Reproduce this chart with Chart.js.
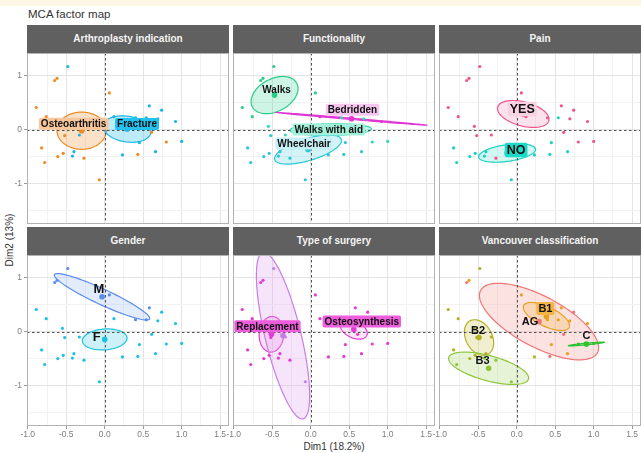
<!DOCTYPE html>
<html>
<head>
<meta charset="utf-8">
<script src="https://cdn.jsdelivr.net/npm/chart.js@4.4.1/dist/chart.umd.min.js"></script>
<style>
html,body{margin:0;padding:0;background:#fff;}
body{width:641px;height:453px;position:relative;overflow:hidden;font-family:"Liberation Sans",Arial,sans-serif;}
#band{position:absolute;left:0;top:0;width:641px;height:6px;background:#fdf8e6;}
#title{position:absolute;left:28px;top:7px;font-size:11.5px;line-height:14px;color:#333;}
.strip{position:absolute;height:28px;background:#606060;color:#f4f4f4;font-weight:bold;font-size:10px;line-height:28px;text-align:center;white-space:nowrap;}
#ytitle{position:absolute;left:9px;top:240px;transform:translate(-50%,-50%) rotate(-90deg);font-size:10px;color:#333;white-space:nowrap;}
#xtitle{position:absolute;left:334px;top:446px;transform:translate(-50%,-50%);font-size:10px;color:#333;white-space:nowrap;}
canvas{position:absolute;}
</style>
</head>
<body>
<div id="band"></div>
<div id="title">MCA factor map</div>
<div id="ytitle">Dim2 (13%)</div>
<div id="xtitle">Dim1 (18.2%)</div>
<script>
// ---- Individuals on the first two MCA dimensions ----
const indDim1 = [-0.48,-0.65,-0.62,0.06,-0.89,-0.76,-0.55,-0.52,-0.33,-0.82,-0.78,-0.61,-0.54,-0.40,-0.42,-0.27,-0.07,0.12,0.40,0.54,0.58,0.74,0.69,0.92,0.61,0.45,0.80,1.00,0.23,0.43,0.66];
const indDim2 = [1.17,0.91,0.95,0.68,0.41,0.24,0.06,-0.11,-0.10,-0.34,-0.61,-0.50,-0.44,-0.41,-0.49,-0.53,-0.93,0.24,0.22,0.22,0.44,0.36,0.20,0.15,-0.05,-0.24,-0.23,-0.22,-0.47,-0.46,-0.41];

// ---- Axis breaks ----
const xMajorTicks = [-1,-0.5,0,0.5,1,1.5];
const xTickLabels = ['-1.0','-0.5','0.0','0.5','1.0','1.5'];
const xMinorTicks = [-0.75,-0.25,0.25,0.75,1.25];
const yMajorTicks = [-1,0,1];
const yTickLabels = ['-1','0','1'];
const yMinorTicks = [-1.5,-0.5,0.5];

// ---- Arthroplasty indication ----
const arthroCategories = ['Osteoarthritis','Fracture'];
const arthroGroup = [1,0,0,0,0,0,0,0,1,0,0,0,0,1,1,0,0,1,1,1,1,1,1,1,0,1,0,1,1,0,1];
const arthroCentre1 = [-0.30,0.29];
const arthroCentre2 = [-0.02,0.01];
const arthroSpread1 = [0.32,0.31];
const arthroSpread2 = [0.345,0.245];
const arthroRho = [0.0,-0.2];

// ---- Functionality ----
const funcCategories = ['Walks','Bedridden','Walks with aid','Wheelchair'];
const funcGroup = [0,0,0,0,0,0,2,3,2,3,3,3,3,3,3,3,3,1,2,1,2,2,2,1,2,3,2,2,3,3,3];
const funcCentre1 = [-0.47,0.53,0.26,-0.035];
const funcCentre2 = [0.64,0.20,0.0,-0.37];
const funcSpread1 = [0.305,0.975,0.53,0.435];
const funcSpread2 = [0.345,0.118,0.11,0.27];
const funcRho = [0.35,-0.995,0.1,0.62];

// ---- Pain ----
const painCategories = ['YES','NO'];
const painGroup = [0,0,0,0,0,0,0,0,0,1,1,1,1,1,1,0,1,0,0,1,0,0,0,0,0,1,0,0,1,1,1];
const painCentre1 = [0.085,-0.125];
const painCentre2 = [0.29,-0.435];
const painSpread1 = [0.335,0.37];
const painSpread2 = [0.25,0.17];
const painRho = [-0.4,0.4];

// ---- Gender ----
const genderCategories = ['M','F'];
const genderGroup = [0,0,0,0,1,1,1,1,1,1,1,1,1,1,1,1,1,1,0,0,0,1,1,1,1,1,1,1,1,1,1];
const genderCentre1 = [-0.035,0.0];
const genderCentre2 = [0.645,-0.145];
const genderSpread1 = [0.62,0.29];
const genderSpread2 = [0.43,0.195];
const genderRho = [-0.93,0.12];

// ---- Type of surgery ----
const surgeryCategories = ['Replacement','Osteosynthesis','Other'];
const surgeryGroup = [2,0,0,1,0,0,0,0,2,0,0,0,0,0,0,0,2,1,1,1,1,1,1,1,1,1,1,1,1,1,1];
const surgeryCentre1 = [-0.51,0.56,-0.36];
const surgeryCentre2 = [-0.05,0.04,-0.075];
const surgerySpread1 = [0.16,0.175,0.346];
const surgerySpread2 = [0.33,0.18,1.545];
const surgeryRho = [0.05,-0.4,-0.72];

// ---- Vancouver classification ----
const vancCategories = ['AG','B1','B2','B3','C'];
const vancGroup = [2,0,1,1,2,2,2,2,2,2,3,2,2,2,3,3,3,0,1,1,1,0,1,1,0,1,4,4,2,0,1];
const vancCentre1 = [0.29,0.386,-0.49,-0.365,0.905];
const vancCentre2 = [0.186,0.28,-0.11,-0.68,-0.23];
const vancSpread1 = [0.775,0.30,0.19,0.52,0.235];
const vancSpread2 = [0.71,0.26,0.33,0.30,0.035];
const vancRho = [-0.68,-0.65,-0.3,-0.6,0.9];

// ---- Facet layout ----
const PLOT_W = 202, PLOT_H = 171, AXIS_W = 27, AXIS_H = 20;
const colLeft = [27, 233, 439];
const rowTop = [53, 255];
const X_MIN = -1.01, X_MAX = 1.615, Y_MIN = -1.75, Y_MAX = 1.42;

const panels = [
  {title:'Arthroplasty indication', cats:arthroCategories, group:arthroGroup, c1:arthroCentre1, c2:arthroCentre2, s1:arthroSpread1, s2:arthroSpread2, rho:arthroRho,
   style:{color:['#ef8a22','#1bb4e6'], fill:['rgba(247,170,100,0.35)','rgba(40,190,235,0.3)'],
          labelBg:['#f7c79b','#25c1ee'], labelSize:10, labelDx:[-8,10], labelDy:[-7,-5], showLabel:[true,true]}},
  {title:'Functionality', cats:funcCategories, group:funcGroup, c1:funcCentre1, c2:funcCentre2, s1:funcSpread1, s2:funcSpread2, rho:funcRho,
   style:{color:['#27cc88','#e236d4','#2ddcb4','#2bc6d8'], fill:['rgba(60,210,150,0.25)','rgba(230,60,215,0.25)','rgba(60,225,185,0.3)','rgba(60,200,220,0.22)'],
          labelBg:[null,'#f7c6ef','#a2f0da','#c6f0f6'], labelSize:10, labelDx:[2,1,-2,-4], labelDy:[-5,-9,0,-6], showLabel:[true,true,true,true]}},
  {title:'Pain', cats:painCategories, group:painGroup, c1:painCentre1, c2:painCentre2, s1:painSpread1, s2:painSpread2, rho:painRho,
   style:{color:['#f0548c','#19d2c1'], fill:['rgba(245,150,185,0.28)','rgba(60,220,205,0.22)'],
          labelBg:['#f8d2e0','#1bdac7'], labelSize:12.5, labelDx:[-1,9], labelDy:[-5,-3], showLabel:[true,true]}},
  {title:'Gender', cats:genderCategories, group:genderGroup, c1:genderCentre1, c2:genderCentre2, s1:genderSpread1, s2:genderSpread2, rho:genderRho,
   style:{color:['#5b8cef','#1cc2e2'], fill:['rgba(150,185,245,0.28)','rgba(90,210,235,0.3)'],
          labelBg:[null,null], labelSize:13, labelDx:[-3,-8], labelDy:[-8,-2], showLabel:[true,true]}},
  {title:'Type of surgery', cats:surgeryCategories, group:surgeryGroup, c1:surgeryCentre1, c2:surgeryCentre2, s1:surgerySpread1, s2:surgerySpread2, rho:surgeryRho,
   style:{color:['#e63ad4','#e63ad4','#c77ee6'], fill:['rgba(240,130,225,0.25)','rgba(240,130,225,0.2)','rgba(225,165,240,0.3)'],
          labelBg:['#ee5ddb','#ee5ddb',null], labelSize:10, labelDx:[-4,8], labelDy:[-8,-8], showLabel:[true,true,false]}},
  {title:'Vancouver classification', cats:vancCategories, group:vancGroup, c1:vancCentre1, c2:vancCentre2, s1:vancSpread1, s2:vancSpread2, rho:vancRho,
   style:{color:['#f07575','#e8a01f','#b4b024','#8cc63e','#2ec22e'], fill:['rgba(248,160,160,0.3)','rgba(240,185,80,0.3)','rgba(215,210,120,0.35)','rgba(175,215,120,0.3)','rgba(90,200,90,0.2)'],
          labelBg:[null,'#f3b445',null,null,null], labelSize:11, labelDx:[-9,-1,-1,-6,0], labelDy:[0,-8,-7,-8,-9], showLabel:[true,true,true,true,true]}}
];

function isMajor(list, v){ return list.some(m => Math.abs(m - v) < 1e-9); }

// Confidence ellipses, reference lines, labels and the panel frame
const facetPlugin = {
  id: 'facet',
  beforeDatasetsDraw(chart, args, opts) {
    const p = opts.panel, st = p.style;
    const {ctx, chartArea:a} = chart, x = chart.scales.x, y = chart.scales.y;
    ctx.save();
    ctx.beginPath(); ctx.rect(a.left, a.top, a.right - a.left, a.bottom - a.top); ctx.clip();
    p.cats.forEach((c, i) => {
      const r = p.rho[i], q = Math.sqrt(Math.max(0, 1 - r * r));
      ctx.beginPath();
      for (let k = 0; k <= 120; k++) {
        const t = k / 120 * 2 * Math.PI;
        const vx = p.c1[i] + p.s1[i] * Math.cos(t);
        const vy = p.c2[i] + p.s2[i] * (r * Math.cos(t) + q * Math.sin(t));
        const px = x.getPixelForValue(vx), py = y.getPixelForValue(vy);
        if (k === 0) ctx.moveTo(px, py); else ctx.lineTo(px, py);
      }
      ctx.closePath();
      ctx.fillStyle = st.fill[i]; ctx.fill();
      ctx.strokeStyle = st.color[i]; ctx.lineWidth = 1.2; ctx.stroke();
    });
    const x0 = Math.round(x.getPixelForValue(0)) + 0.5;
    const y0 = Math.round(y.getPixelForValue(0)) + 0.5;
    ctx.setLineDash([2.5, 2.5]);
    ctx.strokeStyle = '#505050'; ctx.lineWidth = 1;
    ctx.beginPath(); ctx.moveTo(a.left, y0); ctx.lineTo(a.right, y0); ctx.stroke();
    ctx.beginPath(); ctx.moveTo(x0, a.top); ctx.lineTo(x0, a.bottom); ctx.stroke();
    ctx.restore();
  },
  afterDatasetsDraw(chart, args, opts) {
    const p = opts.panel, st = p.style;
    const {ctx} = chart, x = chart.scales.x, y = chart.scales.y;
    ctx.save();
    ctx.font = 'bold ' + st.labelSize + 'px "Liberation Sans", Arial, sans-serif';
    ctx.textAlign = 'center'; ctx.textBaseline = 'middle';
    p.cats.forEach((name, i) => {
      if (!st.showLabel[i]) return;
      const px = x.getPixelForValue(p.c1[i]) + st.labelDx[i];
      const py = y.getPixelForValue(p.c2[i]) + st.labelDy[i];
      const w = ctx.measureText(name).width, h = st.labelSize + 2;
      if (st.labelBg[i]) {
        ctx.fillStyle = st.labelBg[i];
        ctx.beginPath();
        ctx.roundRect(px - w / 2 - 2, py - h / 2, w + 4, h, 2);
        ctx.fill();
      }
      ctx.fillStyle = '#111';
      ctx.fillText(name, px, py + 0.5);
    });
    ctx.restore();
  },
  afterDraw(chart) {
    const {ctx, chartArea:a} = chart;
    ctx.save();
    ctx.strokeStyle = '#b2b2b2'; ctx.lineWidth = 1;
    ctx.strokeRect(a.left + 0.5, a.top + 0.5, a.right - a.left - 1, a.bottom - a.top - 1);
    ctx.restore();
  }
};

panels.forEach((p, k) => {
  const col = k % 3, row = Math.floor(k / 3);
  const showY = col === 0, showX = row === 1;

  const strip = document.createElement('div');
  strip.className = 'strip';
  strip.textContent = p.title;
  strip.style.left = colLeft[col] + 'px';
  strip.style.top = (rowTop[row] - 28) + 'px';
  strip.style.width = PLOT_W + 'px';
  document.body.appendChild(strip);

  const cv = document.createElement('canvas');
  cv.width = AXIS_W + PLOT_W; cv.height = PLOT_H + AXIS_H;
  cv.style.width = cv.width + 'px'; cv.style.height = cv.height + 'px';
  cv.style.left = (colLeft[col] - AXIS_W) + 'px';
  cv.style.top = rowTop[row] + 'px';
  document.body.appendChild(cv);

  const datasets = p.cats.map((c, i) => ({
    label: c,
    data: indDim1.map((v, j) => ({x: v, y: indDim2[j]})).filter((d, j) => p.group[j] === i),
    pointRadius: 1.6, pointBorderWidth: 0,
    pointBackgroundColor: p.style.color[i], borderColor: p.style.color[i]
  }));
  datasets.push({
    label: 'centres',
    data: p.c1.map((v, i) => ({x: v, y: p.c2[i]})),
    pointRadius: 2.8, pointBorderWidth: 0,
    pointBackgroundColor: p.style.color, borderColor: p.style.color
  });

  const xTicksAll = xMajorTicks.concat(xMinorTicks).sort((a, b) => a - b);
  const yTicksAll = yMajorTicks.concat(yMinorTicks).sort((a, b) => a - b);

  new Chart(cv, {
    type: 'scatter',
    data: {datasets},
    plugins: [facetPlugin],
    options: {
      responsive: false, animation: false, devicePixelRatio: 1,
      layout: {padding: 0, autoPadding: false},
      plugins: {legend: {display: false}, tooltip: {enabled: false}, facet: {panel: p}},
      scales: {
        x: {
          type: 'linear', position: 'bottom', min: X_MIN, max: X_MAX,
          afterBuildTicks: s => { s.ticks = xTicksAll.map(v => ({value: v})); },
          afterFit: s => { s.height = AXIS_H; s.paddingLeft = 0; s.paddingRight = 0; s.paddingTop = 0; s.paddingBottom = 0; },
          border: {display: false},
          grid: {
            color: c => isMajor(xMajorTicks, c.tick.value) ? '#e4e4e4' : '#f2f2f2',
            lineWidth: 1, drawTicks: showX, tickLength: 3,
            tickColor: c => isMajor(xMajorTicks, c.tick.value) ? '#9a9a9a' : 'rgba(0,0,0,0)'
          },
          ticks: {
            display: showX, autoSkip: false, maxRotation: 0, padding: 1,
            color: '#7d7d7d', font: {size: 8.5, family: '"Liberation Sans", Arial, sans-serif'},
            callback: v => { const i = xMajorTicks.findIndex(m => Math.abs(m - v) < 1e-9); return i >= 0 ? xTickLabels[i] : ''; }
          }
        },
        y: {
          type: 'linear', position: 'left', min: Y_MIN, max: Y_MAX,
          afterBuildTicks: s => { s.ticks = yTicksAll.map(v => ({value: v})); },
          afterFit: s => { s.width = AXIS_W; s.paddingLeft = 0; s.paddingRight = 0; s.paddingTop = 0; s.paddingBottom = 0; },
          border: {display: false},
          grid: {
            color: c => isMajor(yMajorTicks, c.tick.value) ? '#e4e4e4' : '#f2f2f2',
            lineWidth: 1, drawTicks: showY, tickLength: 3,
            tickColor: c => isMajor(yMajorTicks, c.tick.value) ? '#9a9a9a' : 'rgba(0,0,0,0)'
          },
          ticks: {
            display: showY, autoSkip: false, padding: 2,
            color: '#7d7d7d', font: {size: 8.5, family: '"Liberation Sans", Arial, sans-serif'},
            callback: v => { const i = yMajorTicks.findIndex(m => Math.abs(m - v) < 1e-9); return i >= 0 ? yTickLabels[i] : ''; }
          }
        }
      }
    }
  });
});
</script>
</body>
</html>
